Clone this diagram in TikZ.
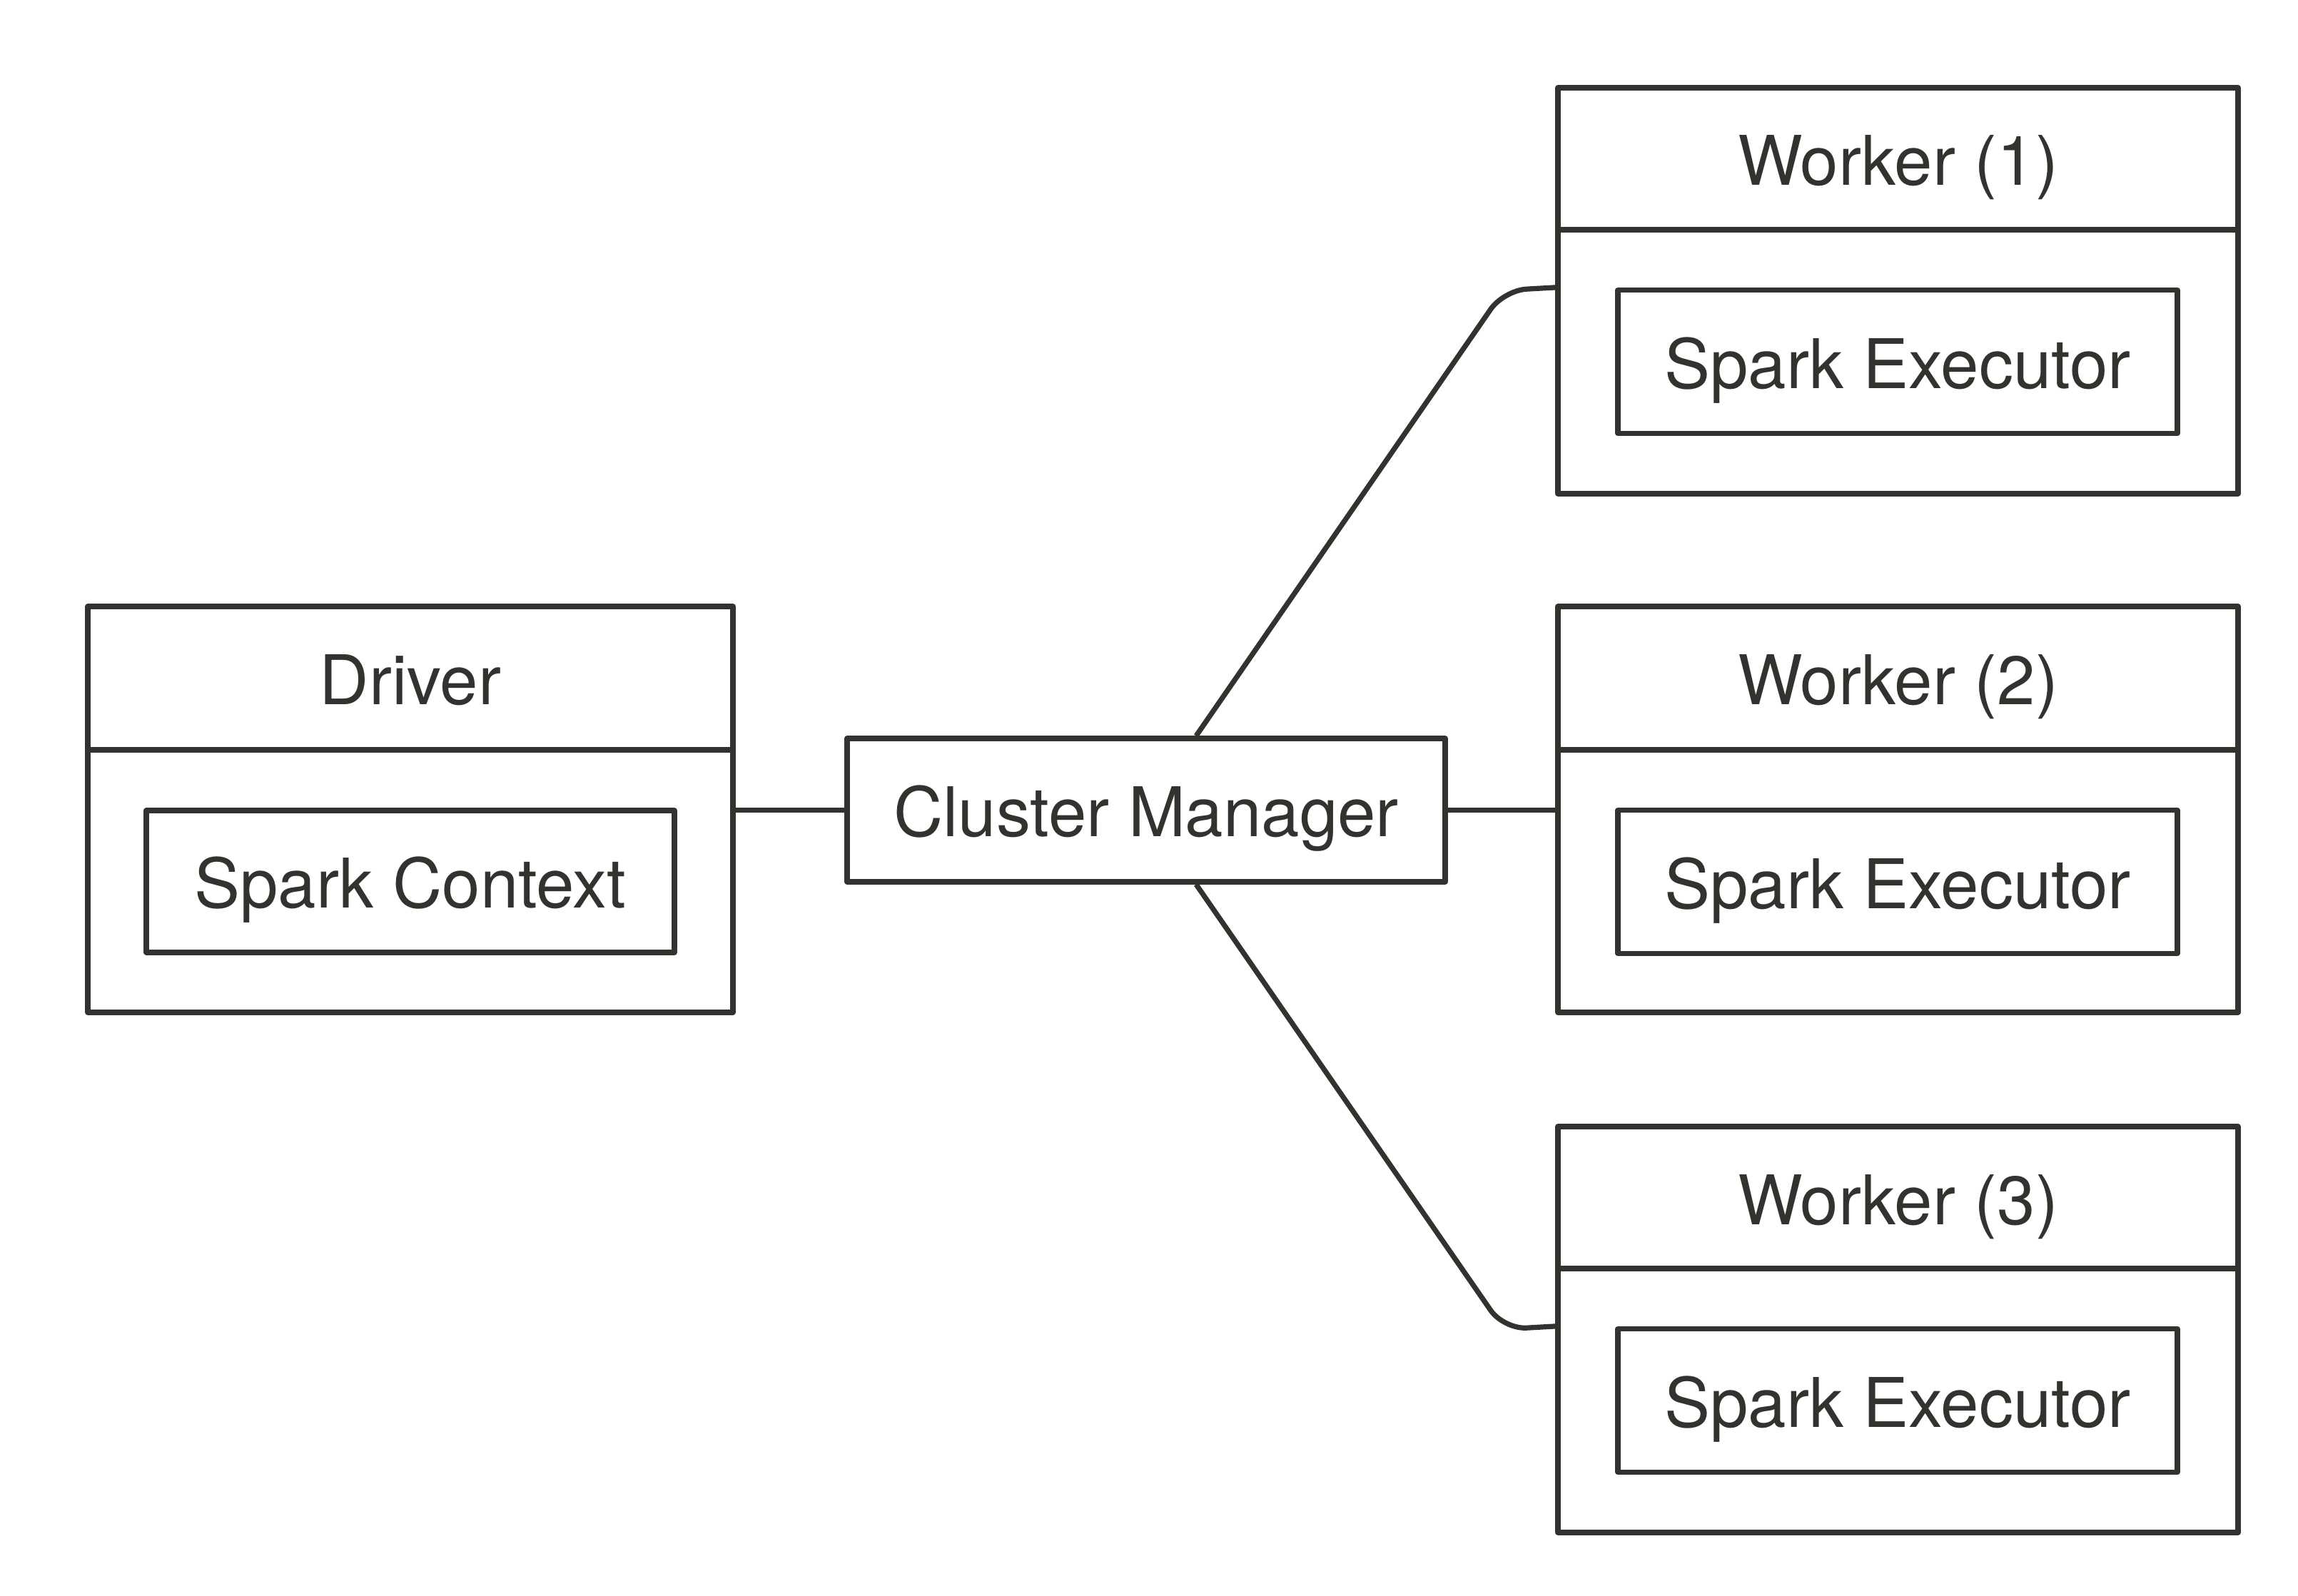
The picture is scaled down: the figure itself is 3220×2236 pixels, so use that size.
\documentclass[tikz,border=0pt]{standalone}
\usepackage{fontspec}
\setmainfont{TeX Gyre Heros}
\usetikzlibrary{calc}
\definecolor{ink}{HTML}{33322E}
\begin{document}
\begin{tikzpicture}[x=0.25pt,y=-0.25pt,
  box/.style={draw=ink,line width=1.8pt,fill=white,inner sep=0pt,line join=round},
  lbl/.style={text=ink,font=\fontsize{24}{29}\selectfont,inner sep=0pt,anchor=base},
  conn/.style={draw=ink,line width=1.8pt,rounded corners=8pt}]
\useasboundingbox[fill=white] (0,0) rectangle (3220,2236);
% Driver
\node[box,minimum width=226pt,minimum height=142.25pt] (driver) at (575,1134.5) {};
\draw[ink,line width=1.8pt] (driver.west |- 0,1051) -- (driver.east |- 0,1051);
\node[lbl] (drivert) at (575,987.5) {Driver};
\node[box,minimum width=185pt,minimum height=49.75pt] (ctx) at (575,1235.5) {};
\node[lbl] (ctxt) at (575,1272.5) {Spark Context};
% Cluster manager
\node[box,minimum width=209.5pt,minimum height=50.25pt] (cm) at (1606,1135.5) {};
\node[lbl] (cmt) at (1606,1172) {Cluster Manager};
% Workers
\foreach \i/\cy/\hy/\ty/\iy in {1/407.5/322/260/544, 2/1134.5/1051/987.5/1273, 3/1863.5/1778/1716/2000}{
  \node[box,minimum width=238.25pt,minimum height=142.25pt] (w\i) at (2659.5,\cy) {};
  \draw[ink,line width=1.8pt] (w\i.west |- 0,\hy) -- (w\i.east |- 0,\hy);
  \node[lbl] (w\i t) at (2659.5,\ty) {Worker (\i)};
  \node[box,minimum width=196pt,minimum height=50.25pt] (e\i) at (2659,\iy-37) {};
  \node[lbl] (e\i t) at (2659,\iy) {Spark Executor};
}
% Connectors
\draw[conn] (cm.west) -- (cm.west -| driver.east);
\draw[conn] (cm.east) -- (cm.east -| w2.west);
\coordinate (cmtop) at ($(cm.north)+(70,0)$);
\coordinate (cmbot) at ($(cm.south)+(70,0)$);
\draw[conn] (cmtop) -- (2107,407) -- (w1.west |- e1.north);
\draw[conn] (cmbot) -- (2107,1863) -- (w3.west |- e3.north);
\end{tikzpicture}
\end{document}
